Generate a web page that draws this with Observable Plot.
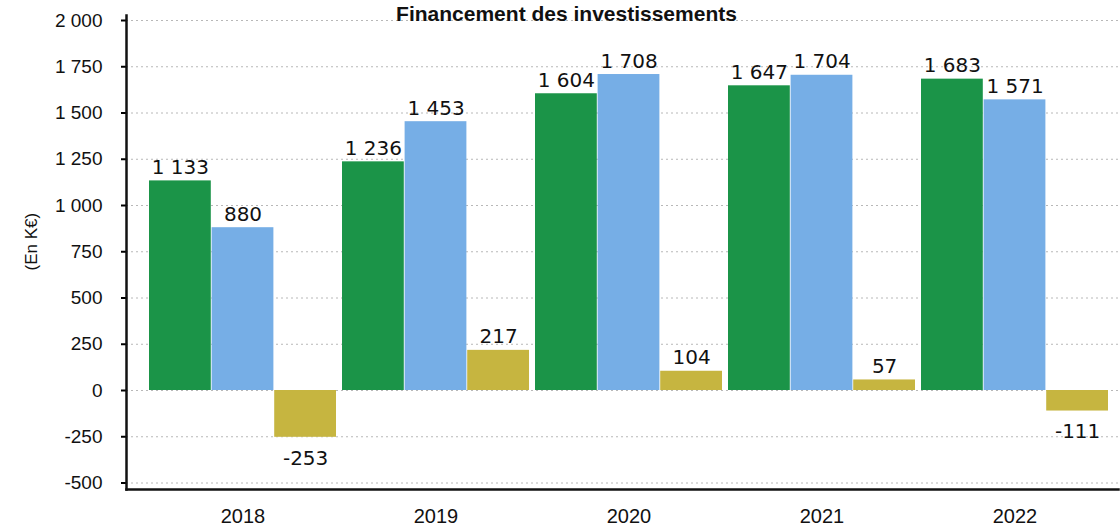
<!DOCTYPE html>
<html>
<head>
<meta charset="utf-8">
<script src="https://cdn.jsdelivr.net/npm/d3@7"></script>
<script src="https://cdn.jsdelivr.net/npm/@observablehq/plot@0.6"></script>
<style>
  html, body { margin: 0; padding: 0; background: #fff; }
  svg { overflow: visible; }
</style>
</head>
<body>
<div id="chart"></div>
<script>
const title = "Financement des investissements";
const yLabel = "(En K€)";
const years = ["2018", "2019", "2020", "2021", "2022"];
const serieVerte = [1133, 1236, 1604, 1647, 1683];
const serieBleue = [880, 1453, 1708, 1704, 1571];
const serieOlive = [-253, 217, 104, 57, -111];
const yTicks = [-500, -250, 0, 250, 500, 750, 1000, 1250, 1500, 1750, 2000];

const colors = ["#1b9448", "#76aee6", "#c6b540"];
const seriesList = [serieVerte, serieBleue, serieOlive];

const fmt = d3.formatLocale({decimal: ",", thousands: " ", grouping: [3], currency: ["", " €"], minus: "-"}).format(",");

const width = 1120, height = 532;
const marginLeft = 126, marginRight = 2, marginTop = 15, marginBottom = 43;
const xRange = [144.7, 1112.8];
const pIn = 0.03, pOut = 0.015;
const step = (xRange[1] - xRange[0]) / (years.length - pIn + 2 * pOut);
const bw = step * (1 - pIn);
const third = bw / 3;

const marks = [
  Plot.gridY(yTicks, {stroke: "#b8b8b8", strokeOpacity: 1, strokeDasharray: "2,3", strokeWidth: 1})
];

seriesList.forEach((vals, i) => {
  const data = years.map((y, k) => ({year: y, value: vals[k]}));
  marks.push(Plot.barY(data, {
    x: "year", y: "value", fill: colors[i],
    insetLeft: i * third, insetRight: (2 - i) * third
  }));
  const off = (i - 1) * third;
  marks.push(Plot.text(data.filter(d => d.value >= 0), {
    x: "year", y: "value", text: d => fmt(d.value), dx: off, dy: -7,
    lineAnchor: "bottom", fontSize: 20, fontFamily: "DejaVu Sans", fill: "#111"
  }));
  marks.push(Plot.text(data.filter(d => d.value < 0), {
    x: "year", y: "value", text: d => fmt(d.value), dx: off, dy: 13,
    lineAnchor: "top", fontSize: 20, fontFamily: "DejaVu Sans", fill: "#111"
  }));
});

marks.push(
  Plot.axisY({ticks: yTicks, tickFormat: fmt, tickSize: 5, tickPadding: 19, strokeWidth: 2,
    fontSize: 19, fontFamily: "Liberation Sans", fill: "#111", label: null}),
  Plot.axisX({tickSize: 0, tickPadding: 19, fontSize: 20, fontFamily: "Liberation Sans", fill: "#111", label: null}),
  Plot.frame({anchor: "left", stroke: "#111", strokeWidth: 2.5}),
  Plot.frame({anchor: "bottom", stroke: "#111", strokeWidth: 2.5}),
  Plot.text([yLabel], {frameAnchor: "left", dx: -95, dy: 18, rotate: -90,
    fontSize: 17, fontFamily: "Liberation Sans", fill: "#111"}),
  Plot.text([title], {frameAnchor: "top", dx: 566 - (marginLeft + width - marginRight) / 2, dy: 5,
    lineAnchor: "bottom", fontSize: 21, fontWeight: "bold", fontFamily: "Liberation Sans", fill: "#111"})
);

const chart = Plot.plot({
  width, height, marginLeft, marginRight, marginTop, marginBottom,
  style: {background: "#fff", overflow: "visible"},
  x: {domain: years, range: xRange, paddingInner: pIn, paddingOuter: pOut, label: null, axis: null},
  y: {domain: [-500, 2000], range: [482.5, 20], label: null, axis: null},
  marks
});
document.getElementById("chart").appendChild(chart);
</script>
</body>
</html>
